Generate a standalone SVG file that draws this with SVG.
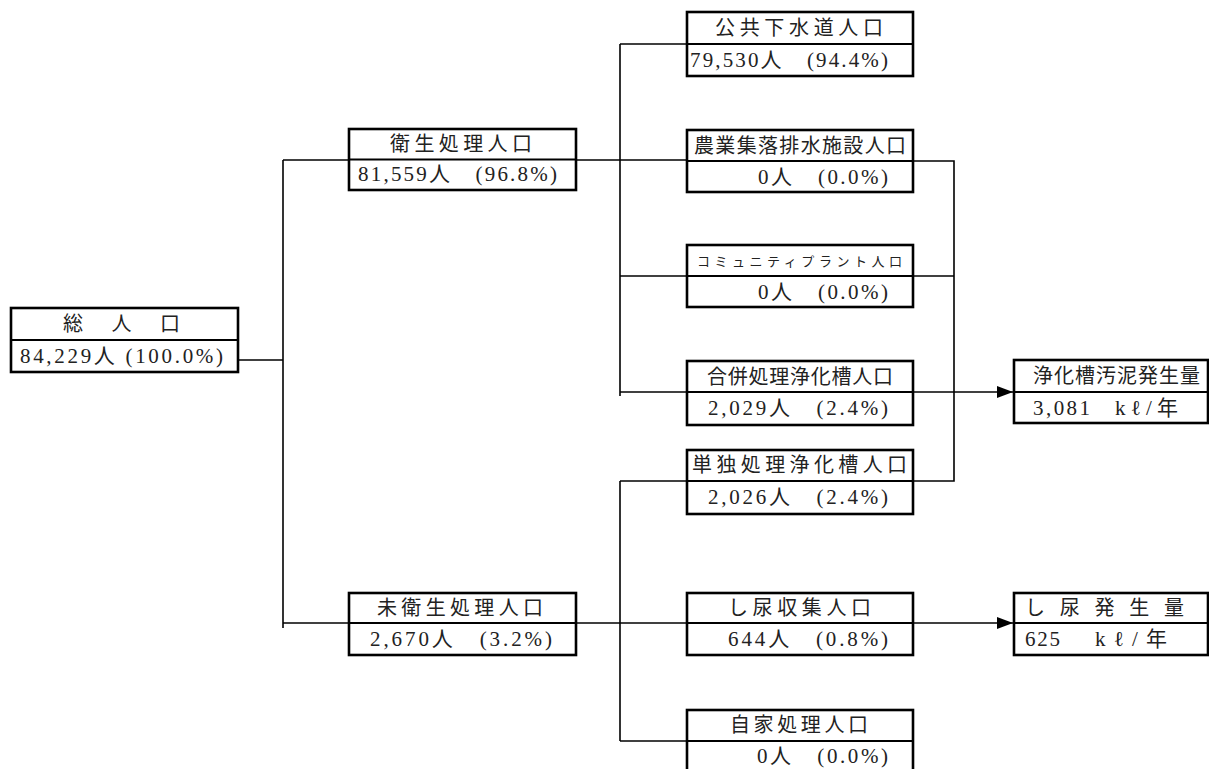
<svg xmlns="http://www.w3.org/2000/svg" width="1209" height="769" viewBox="0 0 1209 769">
<style>
.box{fill:#fff;stroke:#000;stroke-width:2.6}
.div{stroke:#000;stroke-width:2.2}
.ln{fill:none;stroke:#000;stroke-width:1.6}
.t{font-family:"Liberation Serif","Noto Sans CJK JP",serif;font-size:20px;fill:#222}
.v{font-size:21px}
.s{font-size:13px}
</style>
<defs>
<marker id="ah" markerWidth="16" markerHeight="12" refX="16" refY="6" orient="auto" markerUnits="userSpaceOnUse">
<path d="M0,0 L16,6 L0,12 Z" fill="#000"/>
</marker>
</defs>
<rect width="1209" height="769" fill="#fff"/>
<g id="connectors">
<path class="ln" d="M238,360 H283"/>
<path class="ln" d="M283,160 V628"/>
<path class="ln" d="M283,160 H349"/>
<path class="ln" d="M283,623 H349"/>
<path class="ln" d="M576,160 H687"/>
<path class="ln" d="M620,44 V396"/>
<path class="ln" d="M620,44 H687"/>
<path class="ln" d="M620,276 H687"/>
<path class="ln" d="M620,392 H687"/>
<path class="ln" d="M576,623 H687"/>
<path class="ln" d="M620,481 V741"/>
<path class="ln" d="M620,481 H687"/>
<path class="ln" d="M620,741 H687"/>
<path class="ln" d="M913,161 H954 V481 H913"/>
<path class="ln" d="M913,276 H954"/>
<path class="ln" d="M913,392 H1013" marker-end="url(#ah)"/>
<path class="ln" d="M913,623 H1013" marker-end="url(#ah)"/>
</g>
<g id="total">
<rect class="box" x="11" y="308" width="227" height="64"/>
<line class="div" x1="11" y1="340" x2="238" y2="340"/>
<text class="t" x="63" y="331" textLength="117" lengthAdjust="spacing">総　人　口</text>
<text class="t v" x="20" y="363" textLength="203" lengthAdjust="spacing">84,229人 (100.0%)</text>
</g>
<g id="eisei">
<rect class="box" x="349" y="129" width="227" height="61"/>
<line class="div" x1="349" y1="159.5" x2="576" y2="159.5"/>
<text class="t" x="390" y="151" textLength="142" lengthAdjust="spacing">衛生処理人口</text>
<text class="t v" x="358" y="181" textLength="199" lengthAdjust="spacing">81,559人　(96.8%)</text>
</g>
<g id="koukyou">
<rect class="box" x="687" y="12" width="226" height="64"/>
<line class="div" x1="687" y1="44" x2="913" y2="44"/>
<text class="t" x="715" y="35" textLength="168" lengthAdjust="spacing">公共下水道人口</text>
<text class="t v" x="690" y="67" textLength="198" lengthAdjust="spacing">79,530人　(94.4%)</text>
</g>
<g id="nougyou">
<rect class="box" x="687" y="130" width="226" height="62"/>
<line class="div" x1="687" y1="161" x2="913" y2="161"/>
<text class="t" x="694" y="153" textLength="212" lengthAdjust="spacing">農業集落排水施設人口</text>
<text class="t v" x="758" y="184" textLength="130" lengthAdjust="spacing">0人　(0.0%)</text>
</g>
<g id="community">
<rect class="box" x="687" y="245" width="226" height="62"/>
<line class="div" x1="687" y1="276" x2="913" y2="276"/>
<text class="t s" x="697" y="266" textLength="205" lengthAdjust="spacing">コミュニティプラント人口</text>
<text class="t v" x="758" y="299" textLength="130" lengthAdjust="spacing">0人　(0.0%)</text>
</g>
<g id="gappei">
<rect class="box" x="687" y="361" width="226" height="64"/>
<line class="div" x1="687" y1="392" x2="913" y2="392"/>
<text class="t" x="707" y="384" textLength="186" lengthAdjust="spacing">合併処理浄化槽人口</text>
<text class="t v" x="708" y="415" textLength="180" lengthAdjust="spacing">2,029人　(2.4%)</text>
</g>
<g id="odei">
<rect class="box" x="1014" y="360" width="194" height="63"/>
<line class="div" x1="1014" y1="392" x2="1208" y2="392"/>
<text class="t" x="1033" y="383" textLength="167" lengthAdjust="spacing">浄化槽汚泥発生量</text>
<text class="t v" x="1033" y="415" textLength="57" lengthAdjust="spacing">3,081</text>
<text class="t v" x="1115" y="415" textLength="63" lengthAdjust="spacing">kℓ/年</text>
</g>
<g id="tandoku">
<rect class="box" x="687" y="450" width="226" height="64"/>
<line class="div" x1="687" y1="481" x2="913" y2="481"/>
<text class="t" x="692" y="472" textLength="215" lengthAdjust="spacing">単独処理浄化槽人口</text>
<text class="t v" x="708" y="504" textLength="180" lengthAdjust="spacing">2,026人　(2.4%)</text>
</g>
<g id="mieisei">
<rect class="box" x="349" y="593" width="227" height="62"/>
<line class="div" x1="349" y1="623" x2="576" y2="623"/>
<text class="t" x="377" y="615" textLength="166" lengthAdjust="spacing">未衛生処理人口</text>
<text class="t v" x="370" y="646" textLength="182" lengthAdjust="spacing">2,670人　(3.2%)</text>
</g>
<g id="shinyou">
<rect class="box" x="687" y="593" width="226" height="62"/>
<line class="div" x1="687" y1="623" x2="913" y2="623"/>
<text class="t" x="728" y="615" textLength="143" lengthAdjust="spacing">し尿収集人口</text>
<text class="t v" x="728" y="646" textLength="160" lengthAdjust="spacing">644人　(0.8%)</text>
</g>
<g id="shinyou-hassei">
<rect class="box" x="1014" y="593" width="194" height="62"/>
<line class="div" x1="1014" y1="623" x2="1208" y2="623"/>
<text class="t" x="1025" y="615" textLength="159" lengthAdjust="spacing">し尿発生量</text>
<text class="t v" x="1025" y="646" textLength="35" lengthAdjust="spacing">625</text>
<text class="t v" x="1095" y="646" textLength="72" lengthAdjust="spacing">kℓ/年</text>
</g>
<g id="jika">
<rect class="box" x="687" y="710" width="226" height="64"/>
<line class="div" x1="687" y1="741" x2="913" y2="741"/>
<text class="t" x="730" y="732" textLength="138" lengthAdjust="spacing">自家処理人口</text>
<text class="t v" x="757" y="763" textLength="131" lengthAdjust="spacing">0人　(0.0%)</text>
</g>
</svg>
